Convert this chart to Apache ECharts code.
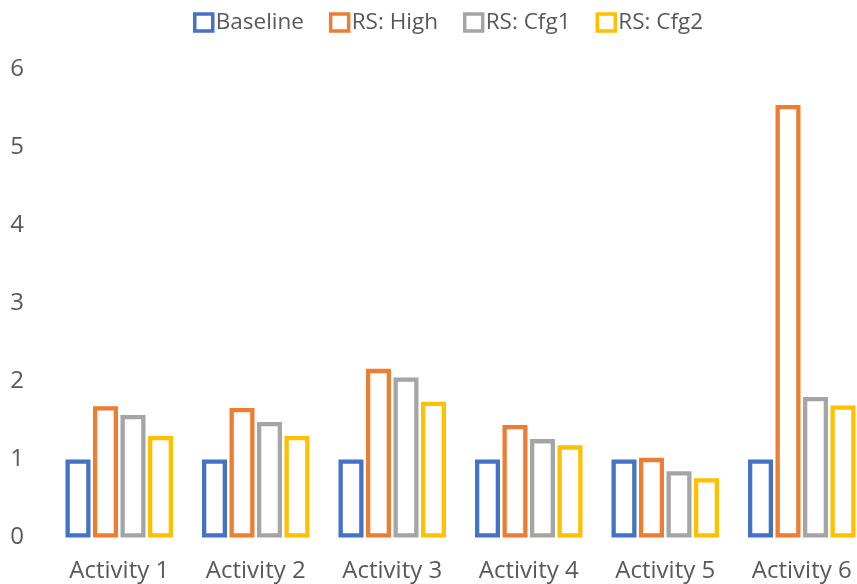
<!DOCTYPE html>
<html>
<head>
<meta charset="utf-8">
<script src="https://cdn.jsdelivr.net/npm/echarts@6/dist/echarts.min.js"></script>
<style>
  html, body { margin: 0; padding: 0; background: #fff; }
  #chart { width: 857px; height: 584px; }
</style>
</head>
<body>
<div id="chart"></div>
<script>
// Categories and series values
const categories = ['Activity 1', 'Activity 2', 'Activity 3', 'Activity 4', 'Activity 5', 'Activity 6'];
const seriesNames = ['Baseline', 'RS: High', 'RS: Cfg1', 'RS: Cfg2'];
const baseline = [1, 1, 1, 1, 1, 1];
const rsHigh   = [1.68, 1.66, 2.16, 1.44, 1.02, 5.54];
const rsCfg1   = [1.57, 1.48, 2.05, 1.26, 0.85, 1.80];
const rsCfg2   = [1.30, 1.30, 1.74, 1.18, 0.76, 1.69];
const yTicks   = [0, 1, 2, 3, 4, 5, 6];

const colors = ['#4472C4', '#ED7D31', '#A5A5A5', '#FFC000'];
const values = [baseline, rsHigh, rsCfg1, rsCfg2];
const FONT = '"Open Sans", "Liberation Sans", sans-serif';
const TEXT = '#595959';

const chart = echarts.init(document.getElementById('chart'), null, { renderer: 'canvas' });

chart.setOption({
  animation: false,
  backgroundColor: '#fff',
  legend: {
    top: 6,
    left: 188,
    itemWidth: 18,
    itemHeight: 17,
    itemGap: 25,
    icon: 'rect',
    textStyle: { fontFamily: FONT, fontSize: 22.5, color: TEXT, padding: [0, 0, 0, -2] },
    data: seriesNames.map((n, i) => ({
      name: n,
      itemStyle: { color: '#fff', borderColor: colors[i], borderWidth: 3.5 }
    }))
  },
  // plot area runs a little past the right edge of the canvas
  grid: { left: 51, right: -13, top: 69, bottom: 46.5, containLabel: false, outerBoundsMode: 'none' },
  xAxis: {
    type: 'category',
    data: categories,
    axisLine: { show: false },
    axisTick: { show: false },
    axisLabel: { fontFamily: FONT, fontSize: 24, color: TEXT, margin: 22 }
  },
  yAxis: {
    type: 'value',
    min: yTicks[0],
    max: yTicks[yTicks.length - 1],
    interval: 1,
    splitLine: { show: false },
    axisLine: { show: false },
    axisTick: { show: false },
    axisLabel: { fontFamily: FONT, fontSize: 24, color: TEXT, margin: 27 }
  },
  series: seriesNames.map((n, i) => ({
    name: n,
    type: 'bar',
    data: values[i],
    barWidth: 25,
    barGap: '10%',
    itemStyle: { color: '#fff', borderColor: colors[i], borderWidth: 4.3 },
    emphasis: { disabled: true }
  }))
});
</script>
</body>
</html>
